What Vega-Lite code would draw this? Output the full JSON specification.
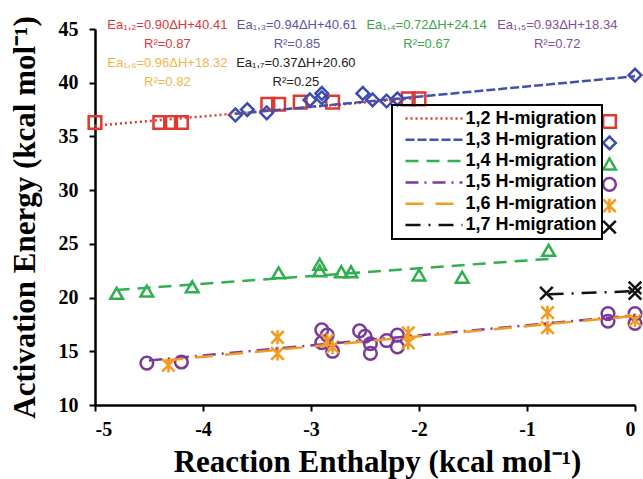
{
  "$schema": "https://vega.github.io/schema/vega-lite/v6.json",
  "width": 540,
  "height": 376,
  "autosize": {"type": "none"},
  "padding": {"left": 95, "top": 29, "right": 8, "bottom": 74},
  "config": {"font": "Liberation Sans", "view": {"stroke": null}, "legend": {"strokeWidth": 2}},
  "datasets": {
    "points": [
      {"series": "1,2 H-migration", "x": -5.0, "y": 36.3},
      {"series": "1,2 H-migration", "x": -4.4, "y": 36.3},
      {"series": "1,2 H-migration", "x": -4.3, "y": 36.3},
      {"series": "1,2 H-migration", "x": -4.2, "y": 36.3},
      {"series": "1,2 H-migration", "x": -3.4, "y": 38.0},
      {"series": "1,2 H-migration", "x": -3.3, "y": 38.0},
      {"series": "1,2 H-migration", "x": -3.1, "y": 38.2},
      {"series": "1,2 H-migration", "x": -2.8, "y": 38.2},
      {"series": "1,2 H-migration", "x": -2.1, "y": 38.5},
      {"series": "1,2 H-migration", "x": -2.0, "y": 38.5},
      {"series": "1,3 H-migration", "x": -3.7, "y": 37.0},
      {"series": "1,3 H-migration", "x": -3.59, "y": 37.5},
      {"series": "1,3 H-migration", "x": -3.41, "y": 37.2},
      {"series": "1,3 H-migration", "x": -3.01, "y": 38.4},
      {"series": "1,3 H-migration", "x": -2.9, "y": 39.0},
      {"series": "1,3 H-migration", "x": -2.9, "y": 38.6},
      {"series": "1,3 H-migration", "x": -2.52, "y": 39.0},
      {"series": "1,3 H-migration", "x": -2.43, "y": 38.4},
      {"series": "1,3 H-migration", "x": -2.3, "y": 38.3},
      {"series": "1,3 H-migration", "x": -2.2, "y": 38.5},
      {"series": "1,3 H-migration", "x": 0.0, "y": 40.7},
      {"series": "1,4 H-migration", "x": -4.8, "y": 20.4},
      {"series": "1,4 H-migration", "x": -4.52, "y": 20.6},
      {"series": "1,4 H-migration", "x": -4.1, "y": 21.0},
      {"series": "1,4 H-migration", "x": -3.3, "y": 22.3},
      {"series": "1,4 H-migration", "x": -2.92, "y": 22.5},
      {"series": "1,4 H-migration", "x": -2.92, "y": 23.1},
      {"series": "1,4 H-migration", "x": -2.72, "y": 22.4},
      {"series": "1,4 H-migration", "x": -2.63, "y": 22.4},
      {"series": "1,4 H-migration", "x": -2.0, "y": 22.1},
      {"series": "1,4 H-migration", "x": -1.6, "y": 21.9},
      {"series": "1,4 H-migration", "x": -0.8, "y": 24.4},
      {"series": "1,5 H-migration", "x": -4.52, "y": 13.9},
      {"series": "1,5 H-migration", "x": -4.2, "y": 14.0},
      {"series": "1,5 H-migration", "x": -2.9, "y": 17.0},
      {"series": "1,5 H-migration", "x": -2.85, "y": 16.5},
      {"series": "1,5 H-migration", "x": -2.9, "y": 15.8},
      {"series": "1,5 H-migration", "x": -2.8, "y": 15.0},
      {"series": "1,5 H-migration", "x": -2.55, "y": 16.9},
      {"series": "1,5 H-migration", "x": -2.5, "y": 16.4},
      {"series": "1,5 H-migration", "x": -2.45, "y": 15.7},
      {"series": "1,5 H-migration", "x": -2.45, "y": 14.8},
      {"series": "1,5 H-migration", "x": -2.3, "y": 16.0},
      {"series": "1,5 H-migration", "x": -2.2, "y": 16.5},
      {"series": "1,5 H-migration", "x": -2.2, "y": 15.4},
      {"series": "1,5 H-migration", "x": -0.25, "y": 18.5},
      {"series": "1,5 H-migration", "x": -0.25, "y": 17.8},
      {"series": "1,5 H-migration", "x": 0.0, "y": 18.5},
      {"series": "1,5 H-migration", "x": 0.0, "y": 17.6},
      {"series": "1,6 H-migration", "x": -4.32, "y": 13.7},
      {"series": "1,6 H-migration", "x": -3.31, "y": 16.3},
      {"series": "1,6 H-migration", "x": -3.31, "y": 14.8},
      {"series": "1,6 H-migration", "x": -2.85, "y": 16.0},
      {"series": "1,6 H-migration", "x": -2.8, "y": 15.4},
      {"series": "1,6 H-migration", "x": -2.1, "y": 16.7},
      {"series": "1,6 H-migration", "x": -2.1, "y": 15.8},
      {"series": "1,6 H-migration", "x": -0.81, "y": 18.6},
      {"series": "1,6 H-migration", "x": -0.81, "y": 17.2},
      {"series": "1,6 H-migration", "x": 0.0, "y": 17.9},
      {"series": "1,7 H-migration", "x": -0.82, "y": 20.4},
      {"series": "1,7 H-migration", "x": 0.0, "y": 20.9},
      {"series": "1,7 H-migration", "x": 0.0, "y": 20.4}
    ],
    "fits": [
      {"fit": "1,2 H-migration", "x": -5.0, "y": 36.0},
      {"fit": "1,2 H-migration", "x": -2.0, "y": 38.6},
      {"fit": "1,3 H-migration", "x": -3.7, "y": 37.1},
      {"fit": "1,3 H-migration", "x": 0.0, "y": 40.6},
      {"fit": "1,4 H-migration", "x": -4.8, "y": 20.7},
      {"fit": "1,4 H-migration", "x": -0.8, "y": 23.6},
      {"fit": "1,5 H-migration", "x": -4.5, "y": 14.15},
      {"fit": "1,5 H-migration", "x": 0.0, "y": 18.35},
      {"fit": "1,6 H-migration", "x": -4.35, "y": 14.15},
      {"fit": "1,6 H-migration", "x": 0.0, "y": 18.3},
      {"fit": "1,7 H-migration", "x": -0.8, "y": 20.3},
      {"fit": "1,7 H-migration", "x": 0.0, "y": 20.6}
    ],
    "notes": [
      {"series": "1,2", "x": -4.33, "y": 45.4, "label": "Ea₁,₂=0.90ΔH+40.41"},
      {"series": "1,2", "x": -4.33, "y": 43.6, "label": "R²=0.87"},
      {"series": "1,3", "x": -3.13, "y": 45.4, "label": "Ea₁,₃=0.94ΔH+40.61"},
      {"series": "1,3", "x": -3.13, "y": 43.6, "label": "R²=0.85"},
      {"series": "1,4", "x": -1.93, "y": 45.4, "label": "Ea₁,₄=0.72ΔH+24.14"},
      {"series": "1,4", "x": -1.93, "y": 43.6, "label": "R²=0.67"},
      {"series": "1,5", "x": -0.72, "y": 45.4, "label": "Ea₁,₅=0.93ΔH+18.34"},
      {"series": "1,5", "x": -0.72, "y": 43.6, "label": "R²=0.72"},
      {"series": "1,6", "x": -4.33, "y": 41.8, "label": "Ea₁,₆=0.96ΔH+18.32"},
      {"series": "1,6", "x": -4.33, "y": 40.1, "label": "R²=0.82"},
      {"series": "1,7", "x": -3.14, "y": 41.8, "label": "Ea₁,₇=0.37ΔH+20.60"},
      {"series": "1,7", "x": -3.14, "y": 40.1, "label": "R²=0.25"}
    ]
  },
  "encoding": {
    "x": {
      "field": "x", "type": "quantitative",
      "scale": {"domain": [-5, 0], "nice": false, "zero": false},
      "axis": {
        "values": [-5, -4, -3, -2, -1, 0],
        "labelExpr": "datum.value == 0 ? '0' : '-' + abs(datum.value)",
        "grid": false,
        "labelFont": "Liberation Serif", "labelFontWeight": "bold", "labelFontSize": 20, "labelColor": "black",
        "labelPadding": 8,
        "tickColor": "black", "tickWidth": 2, "tickSize": 6,
        "domainColor": "black", "domainWidth": 2.5,
        "title": "Reaction Enthalpy (kcal mol⁻¹)",
        "titleFont": "Liberation Serif", "titleFontWeight": "bold", "titleFontSize": 31, "titleColor": "black",
        "titlePadding": 8, "titleX": 282
      }
    },
    "y": {
      "field": "y", "type": "quantitative",
      "scale": {"domain": [10, 45], "nice": false, "zero": false},
      "axis": {
        "values": [10, 15, 20, 25, 30, 35, 40, 45],
        "grid": false,
        "labelFont": "Liberation Serif", "labelFontWeight": "bold", "labelFontSize": 20, "labelColor": "black",
        "labelPadding": 11,
        "tickColor": "black", "tickWidth": 2, "tickSize": 6,
        "domainColor": "black", "domainWidth": 2.5,
        "title": "Activation Energy (kcal mol⁻¹)",
        "titleFont": "Liberation Serif", "titleFontWeight": "bold", "titleFontSize": 31, "titleColor": "black",
        "titlePadding": 17
      }
    }
  },
  "layer": [
    {
      "data": {"name": "points"},
      "mark": {"type": "point", "filled": false, "strokeWidth": 2.5, "size": 160, "opacity": 1},
      "encoding": {
        "shape": {
          "field": "series", "type": "nominal",
          "scale": {"range": ["square", "diamond", "triangle-up", "circle", "M-1,-1L1,1M-1,1L1,-1M0,-1.1L0,1.1", "M-1,-1L1,1M-1,1L1,-1"]},
          "legend": {
            "orient": "none", "legendX": 501, "legendY": 79, "title": null,
            "padding": 4.5, "rowPadding": -2.6, "symbolSize": 160, "symbolStrokeWidth": 2.5,
            "labelExpr": "'\u00a0'", "labelFontSize": 18, "labelFont": "Liberation Sans", "labelFontWeight": "bold"
          }
        },
        "color": {
          "field": "series", "type": "nominal",
          "scale": {"range": ["#e03a2f", "#3d4bb0", "#2fae4e", "#7a3a9c", "#f39a1f", "#111111"]},
          "legend": {
            "orient": "none", "legendX": 501, "legendY": 79, "title": null,
            "padding": 4.5, "rowPadding": -2.6, "symbolSize": 160, "symbolStrokeWidth": 2.5,
            "labelExpr": "'\u00a0'", "labelFontSize": 18, "labelFont": "Liberation Sans", "labelFontWeight": "bold"
          }
        }
      }
    },
    {
      "data": {"name": "fits"},
      "mark": {"type": "line", "strokeWidth": 2.5},
      "encoding": {
        "color": {
          "field": "fit", "type": "nominal",
          "scale": {"range": ["#e03a2f", "#4450b0", "#30b050", "#7a3a9c", "#f39a1f", "#111111"]},
          "legend": {
            "orient": "none", "legendX": 297, "legendY": 76, "title": null,
            "padding": 4.5, "rowPadding": 3.3, "symbolType": "M0,0L9,0", "symbolSize": 160, "symbolStrokeWidth": 2.5,
            "symbolOffset": 0,
            "labelFontSize": 18, "labelFont": "Liberation Sans", "labelFontWeight": "bold", "labelColor": "black", "labelOffset": 51, "labelLimit": 400,
            "labelExpr": "datum.label + '\u00a0\u00a0\u00a0\u00a0\u00a0'",
            "strokeColor": "black"
          }
        },
        "strokeDash": {
          "field": "fit", "type": "nominal",
          "scale": {"range": [[2, 3], [9, 3], [13, 8], [13, 6, 2, 6], [18, 12], [15, 8, 2, 8]]},
          "legend": {
            "orient": "none", "legendX": 297, "legendY": 76, "title": null,
            "padding": 4.5, "rowPadding": 3.3, "symbolType": "M0,0L9,0", "symbolSize": 160, "symbolStrokeWidth": 2.5,
            "symbolOffset": 0,
            "labelFontSize": 18, "labelFont": "Liberation Sans", "labelFontWeight": "bold", "labelColor": "black", "labelOffset": 51, "labelLimit": 400,
            "labelExpr": "datum.label + '\u00a0\u00a0\u00a0\u00a0\u00a0'",
            "strokeColor": "black"
          }
        }
      }
    },
    {
      "data": {"name": "notes"},
      "mark": {"type": "text", "font": "Liberation Sans", "fontSize": 13, "align": "center", "baseline": "middle"},
      "encoding": {
        "text": {"field": "label", "type": "nominal"},
        "color": {
          "field": "series", "type": "nominal",
          "scale": {"range": ["#d8383a", "#5a55a8", "#3aa648", "#8050a0", "#f0b54a", "#222222"]},
          "legend": null
        }
      }
    }
  ],
  "resolve": {"scale": {"color": "independent", "shape": "independent", "strokeDash": "independent"}}
}
